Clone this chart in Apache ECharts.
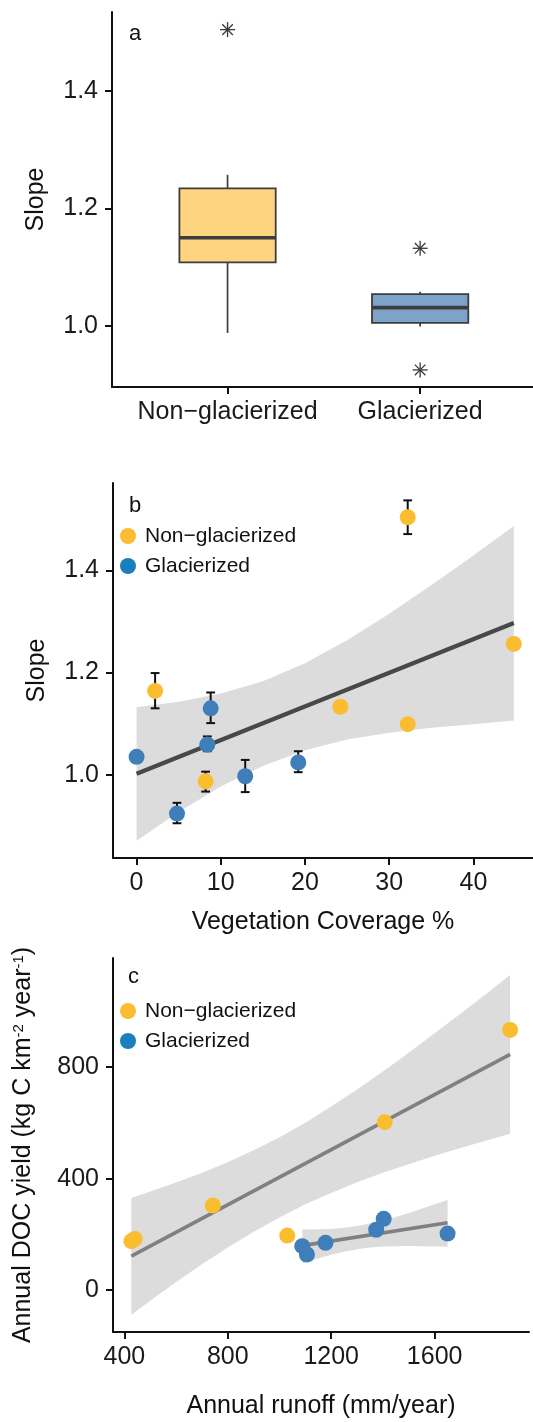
<!DOCTYPE html>
<html>
<head>
<meta charset="utf-8">
<script src="https://cdn.jsdelivr.net/npm/echarts@6/dist/echarts.min.js"></script>
<style>
  html, body { margin: 0; padding: 0; background: #ffffff; }
  #chart { width: 533px; height: 1422px; }
</style>
</head>
<body>
<div id="chart"></div>
<script>
// ---------- Panel a : box plot of slopes ----------
const boxCategories = ['Non\u2212glacierized', 'Glacierized'];
// [category position, lower whisker, Q1, median, Q3, upper whisker]
const boxMin    = [0.988, 0.999];
const boxQ1     = [1.108, 1.005];
const boxMedian = [1.150, 1.031];
const boxQ3     = [1.234, 1.054];
const boxMax    = [1.257, 1.058];
const outlierCat   = [1, 2, 2];
const outlierValue = [1.504, 1.132, 0.925];
const slopeTicks = [1.0, 1.2, 1.4];

// ---------- Panel b : slope vs vegetation coverage ----------
const vegNonX     = [2.2, 32.2, 8.2, 24.2, 32.2, 44.8];
const vegNonY     = [1.164, 1.504, 0.987, 1.133, 1.099, 1.256];
const vegNonErrLo = [1.130, 1.471, 0.967, null, null, null];
const vegNonErrHi = [1.199, 1.537, 1.006, null, null, null];
const vegGlaX     = [0, 4.8, 8.4, 8.8, 12.9, 19.2];
const vegGlaY     = [1.035, 0.924, 1.059, 1.130, 0.997, 1.024];
const vegGlaErrLo = [null, 0.905, 1.046, 1.101, 0.966, 1.005];
const vegGlaErrHi = [null, 0.945, 1.075, 1.161, 1.029, 1.046];
const vegFitX = [0, 44.8];
const vegFitY = [1.002, 1.297];
const vegBandX  = [0, 5, 10, 15, 20, 25, 30, 35, 40, 44.8];
const vegBandLo = [0.871, 0.927, 0.977, 1.017, 1.048, 1.069, 1.082, 1.092, 1.099, 1.106];
const vegBandHi = [1.132, 1.143, 1.159, 1.183, 1.218, 1.263, 1.315, 1.371, 1.429, 1.487];
const vegTicks = [0, 10, 20, 30, 40];

// ---------- Panel c : DOC yield vs runoff ----------
const runNonX = [427, 440, 742, 1030, 1407, 1892];
const runNonY = [176, 184, 304, 196, 603, 934];
const runGlaX = [1088, 1106, 1178, 1374, 1403, 1650];
const runGlaY = [158, 128, 170, 217, 256, 203];
const runNonFitX = [427, 1892];
const runNonFitY = [122, 846];
const runGlaFitX = [1088, 1650];
const runGlaFitY = [160, 242];
const runNonBandX  = [427, 500, 600, 700, 800, 900, 1000, 1100, 1200, 1300, 1400, 1500, 1600, 1700, 1800, 1892];
const runNonBandLo = [-88, -38, 29, 93, 153, 210, 261, 308, 349, 387, 421, 452, 482, 510, 537, 561];
const runNonBandHi = [331, 354, 386, 421, 459, 502, 549, 601, 659, 720, 785, 852, 922, 992, 1064, 1131];
const runGlaBandX  = [1088, 1150, 1200, 1250, 1300, 1350, 1400, 1450, 1500, 1550, 1600, 1650];
const runGlaBandLo = [98, 114, 127, 138, 147, 153, 157, 158, 159, 158, 157, 156];
const runGlaBandHi = [218, 219, 220, 224, 230, 239, 250, 263, 277, 292, 308, 324];
const docTicks = [0, 400, 800];
const runTicks = [400, 800, 1200, 1600];

// ---------- styles ----------
const FONT = '"Liberation Sans", Arial, Helvetica, sans-serif';
const INK = '#111111';
const ORANGE = '#fbbd30';
const BLUE = '#3f7eb9';
const BLUE_LEGEND = '#1a7fbe';
const BOX_FILLS = ['#fed481', '#7ea3c9'];
const BOX_STROKE = '#3d3d3d';
const BAND = '#dcdcdc';

const zip2 = (a, b) => a.map((v, i) => [v, b[i]]);
const zip3 = (a, b, c) => a.map((v, i) => [v, b[i], c[i]]);

function axisCommon(extra) {
  return Object.assign({
    type: 'value',
    scale: false,
    splitLine: { show: false },
    axisLine: { show: true, onZero: false, lineStyle: { color: INK, width: 2 } },
    axisTick: { show: true, length: 7, inside: false, lineStyle: { color: INK, width: 2 } },
    axisLabel: { show: true, color: '#1a1a1a', fontSize: 25, fontFamily: FONT },
    nameTextStyle: { color: INK, fontSize: 25, fontFamily: FONT }
  }, extra);
}

function renderBox(params, api) {
  const c = api.value(0);
  const lo = api.coord([c, api.value(1)]);
  const q1 = api.coord([c, api.value(2)]);
  const md = api.coord([c, api.value(3)]);
  const q3 = api.coord([c, api.value(4)]);
  const hi = api.coord([c, api.value(5)]);
  const half = api.size([0.5, 0])[0] / 2;
  const x = lo[0];
  return {
    type: 'group',
    children: [
      { type: 'line', shape: { x1: x, y1: hi[1], x2: x, y2: q3[1] }, style: { stroke: BOX_STROKE, lineWidth: 1.7 } },
      { type: 'line', shape: { x1: x, y1: q1[1], x2: x, y2: lo[1] }, style: { stroke: BOX_STROKE, lineWidth: 1.7 } },
      { type: 'rect', shape: { x: x - half, y: q3[1], width: 2 * half, height: q1[1] - q3[1] },
        style: { fill: BOX_FILLS[params.dataIndex], stroke: BOX_STROKE, lineWidth: 1.8 } },
      { type: 'line', shape: { x1: x - half, y1: md[1], x2: x + half, y2: md[1] }, style: { stroke: BOX_STROKE, lineWidth: 3.6 } }
    ]
  };
}

function renderStar(params, api) {
  const p = api.coord([api.value(0), api.value(1)]);
  const r = 7.5;
  const kids = [];
  [0, 45, 90, 135].forEach(function (deg) {
    const a = deg * Math.PI / 180;
    const dx = Math.cos(a) * r, dy = Math.sin(a) * r;
    kids.push({ type: 'line', shape: { x1: p[0] - dx, y1: p[1] - dy, x2: p[0] + dx, y2: p[1] + dy },
      style: { stroke: '#3a3a3a', lineWidth: 1.3 } });
  });
  return { type: 'group', children: kids };
}

function renderErr(params, api) {
  const lo = api.value(1), hi = api.value(2);
  if (lo == null || hi == null || isNaN(lo) || isNaN(hi)) return null;
  const x = api.value(0);
  const a = api.coord([x, hi]);
  const b = api.coord([x, lo]);
  const w = 4.4;
  const st = { stroke: '#111111', lineWidth: 2 };
  return {
    type: 'group',
    children: [
      { type: 'line', shape: { x1: a[0], y1: a[1], x2: b[0], y2: b[1] }, style: st },
      { type: 'line', shape: { x1: a[0] - w, y1: a[1], x2: a[0] + w, y2: a[1] }, style: st },
      { type: 'line', shape: { x1: b[0] - w, y1: b[1], x2: b[0] + w, y2: b[1] }, style: st }
    ]
  };
}

function bandRenderer(xs, los, his) {
  return function (params, api) {
    if (params.dataIndex !== 0) return null;
    const pts = [];
    for (let i = 0; i < xs.length; i++) pts.push(api.coord([xs[i], his[i]]));
    for (let i = xs.length - 1; i >= 0; i--) pts.push(api.coord([xs[i], los[i]]));
    return { type: 'polygon', shape: { points: pts }, style: { fill: BAND }, silent: true };
  };
}

const chart = echarts.init(document.getElementById('chart'), null, { renderer: 'canvas' });

const option = {
  backgroundColor: '#ffffff',
  animation: false,
  textStyle: { fontFamily: FONT },
  title: [
    { text: 'a', left: 129, top: 23, padding: 0, textStyle: { fontSize: 22, fontWeight: 'normal', color: INK, fontFamily: FONT } },
    { text: 'b', left: 129, top: 495, padding: 0, textStyle: { fontSize: 22, fontWeight: 'normal', color: INK, fontFamily: FONT } },
    { text: 'c', left: 128, top: 966, padding: 0, textStyle: { fontSize: 22, fontWeight: 'normal', color: INK, fontFamily: FONT } }
  ],
  legend: [
    { left: 120, top: 525, orient: 'vertical', padding: 0, itemWidth: 24, itemHeight: 16, itemGap: 8,
      selectedMode: false, icon: 'circle',
      textStyle: { fontSize: 21, lineHeight: 22, color: INK, fontFamily: FONT },
      data: [{ name: 'Non\u2212glacierized', itemStyle: { color: ORANGE } }, { name: 'Glacierized', itemStyle: { color: BLUE_LEGEND } }] },
    { left: 120, top: 1000, orient: 'vertical', padding: 0, itemWidth: 24, itemHeight: 16, itemGap: 8,
      selectedMode: false, icon: 'circle',
      textStyle: { fontSize: 21, lineHeight: 22, color: INK, fontFamily: FONT },
      data: [{ name: 'Non\u2212glacierized', itemStyle: { color: ORANGE } }, { name: 'Glacierized', itemStyle: { color: BLUE_LEGEND } }] }
  ],
  grid: [
    { left: 112, top: 12, width: 421, height: 375, containLabel: false, outerBoundsMode: 'none' },
    { left: 113, top: 483, width: 420, height: 375, containLabel: false, outerBoundsMode: 'none' },
    { left: 113, top: 958, width: 416, height: 374, containLabel: false, outerBoundsMode: 'none' }
  ],
  xAxis: [
    axisCommon({ gridIndex: 0, min: 0.4, max: 2.586,
      axisTick: { show: true, length: 7, customValues: [1, 2], lineStyle: { color: INK, width: 2 } },
      axisLabel: { show: true, color: '#1a1a1a', fontSize: 25, fontFamily: FONT, margin: 13, customValues: [1, 2],
        formatter: function (v) { return boxCategories[Math.round(v) - 1] || ''; } } }),
    axisCommon({ gridIndex: 1, min: -2.8, max: 47.08, name: 'Vegetation Coverage %', nameLocation: 'middle', nameGap: 52,
      axisTick: { show: true, length: 7, customValues: vegTicks, lineStyle: { color: INK, width: 2 } },
      axisLabel: { show: true, color: '#1a1a1a', fontSize: 25, fontFamily: FONT, margin: 13, customValues: vegTicks,
        formatter: function (v) { return String(v); } } }),
    axisCommon({ gridIndex: 2, min: 356, max: 1965, name: 'Annual runoff (mm/year)', nameLocation: 'middle', nameGap: 62,
      axisTick: { show: true, length: 7, customValues: runTicks, lineStyle: { color: INK, width: 2 } },
      axisLabel: { show: true, color: '#1a1a1a', fontSize: 25, fontFamily: FONT, margin: 13, customValues: runTicks,
        formatter: function (v) { return String(v); } } })
  ],
  yAxis: [
    axisCommon({ gridIndex: 0, min: 0.896, max: 1.534, name: 'Slope', nameLocation: 'middle', nameGap: 63,
      axisTick: { show: true, length: 7, customValues: slopeTicks, lineStyle: { color: INK, width: 2 } },
      axisLabel: { show: true, color: '#1a1a1a', fontSize: 25, fontFamily: FONT, margin: 14, customValues: slopeTicks,
        formatter: function (v) { return v.toFixed(1); } } }),
    axisCommon({ gridIndex: 1, min: 0.837, max: 1.571, name: 'Slope', nameLocation: 'middle', nameGap: 63,
      axisTick: { show: true, length: 7, customValues: slopeTicks, lineStyle: { color: INK, width: 2 } },
      axisLabel: { show: true, color: '#1a1a1a', fontSize: 25, fontFamily: FONT, margin: 14, customValues: slopeTicks,
        formatter: function (v) { return v.toFixed(1); } } }),
    axisCommon({ gridIndex: 2, min: -150, max: 1192,
      name: 'Annual DOC yield (kg C km{s|-2} year{s|-1})', nameLocation: 'middle', nameGap: 77,
      nameTextStyle: { color: INK, fontSize: 25, fontFamily: FONT,
        rich: { s: { fontSize: 15, verticalAlign: 'top', color: INK, fontFamily: FONT } } },
      axisTick: { show: true, length: 7, customValues: docTicks, lineStyle: { color: INK, width: 2 } },
      axisLabel: { show: true, color: '#1a1a1a', fontSize: 25, fontFamily: FONT, margin: 14, customValues: docTicks,
        formatter: function (v) { return String(v); } } })
  ],
  series: [
    // ---- panel a
    { type: 'custom', name: 'box', xAxisIndex: 0, yAxisIndex: 0, z: 3,
      renderItem: renderBox,
      data: boxMin.map(function (v, i) { return [i + 1, boxMin[i], boxQ1[i], boxMedian[i], boxQ3[i], boxMax[i]]; }) },
    { type: 'custom', name: 'outliers', xAxisIndex: 0, yAxisIndex: 0, z: 4,
      renderItem: renderStar, data: zip2(outlierCat, outlierValue) },
    // ---- panel b
    { type: 'custom', name: 'bandB', xAxisIndex: 1, yAxisIndex: 1, z: 1, silent: true,
      renderItem: bandRenderer(vegBandX, vegBandLo, vegBandHi), data: zip3(vegBandX, vegBandLo, vegBandHi) },
    { type: 'line', name: 'fitB', xAxisIndex: 1, yAxisIndex: 1, z: 2, showSymbol: false, symbol: 'none',
      lineStyle: { color: '#484848', width: 4.2 }, data: zip2(vegFitX, vegFitY), silent: true },
    { type: 'custom', name: 'errNon', xAxisIndex: 1, yAxisIndex: 1, z: 3,
      renderItem: renderErr, data: zip3(vegNonX, vegNonErrLo, vegNonErrHi) },
    { type: 'custom', name: 'errGla', xAxisIndex: 1, yAxisIndex: 1, z: 3,
      renderItem: renderErr, data: zip3(vegGlaX, vegGlaErrLo, vegGlaErrHi) },
    { type: 'scatter', name: 'Non\u2212glacierized', xAxisIndex: 1, yAxisIndex: 1, z: 4, symbolSize: 16,
      itemStyle: { color: ORANGE, opacity: 1 }, data: zip2(vegNonX, vegNonY) },
    { type: 'scatter', name: 'Glacierized', xAxisIndex: 1, yAxisIndex: 1, z: 4, symbolSize: 16,
      itemStyle: { color: BLUE, opacity: 1 }, data: zip2(vegGlaX, vegGlaY) },
    // ---- panel c
    { type: 'custom', name: 'bandCnon', xAxisIndex: 2, yAxisIndex: 2, z: 1, silent: true,
      renderItem: bandRenderer(runNonBandX, runNonBandLo, runNonBandHi), data: zip3(runNonBandX, runNonBandLo, runNonBandHi) },
    { type: 'custom', name: 'bandCgla', xAxisIndex: 2, yAxisIndex: 2, z: 1, silent: true,
      renderItem: bandRenderer(runGlaBandX, runGlaBandLo, runGlaBandHi), data: zip3(runGlaBandX, runGlaBandLo, runGlaBandHi) },
    { type: 'line', name: 'fitCnon', xAxisIndex: 2, yAxisIndex: 2, z: 2, showSymbol: false, symbol: 'none',
      lineStyle: { color: '#808080', width: 3.6 }, data: zip2(runNonFitX, runNonFitY), silent: true },
    { type: 'line', name: 'fitCgla', xAxisIndex: 2, yAxisIndex: 2, z: 2, showSymbol: false, symbol: 'none',
      lineStyle: { color: '#808080', width: 3.6 }, data: zip2(runGlaFitX, runGlaFitY), silent: true },
    { type: 'scatter', name: 'Non\u2212glacierized', xAxisIndex: 2, yAxisIndex: 2, z: 4, symbolSize: 16,
      itemStyle: { color: ORANGE, opacity: 1 }, data: zip2(runNonX, runNonY) },
    { type: 'scatter', name: 'Glacierized', xAxisIndex: 2, yAxisIndex: 2, z: 4, symbolSize: 16,
      itemStyle: { color: BLUE, opacity: 1 }, data: zip2(runGlaX, runGlaY) }
  ]
};

chart.setOption(option);
</script>
</body>
</html>
